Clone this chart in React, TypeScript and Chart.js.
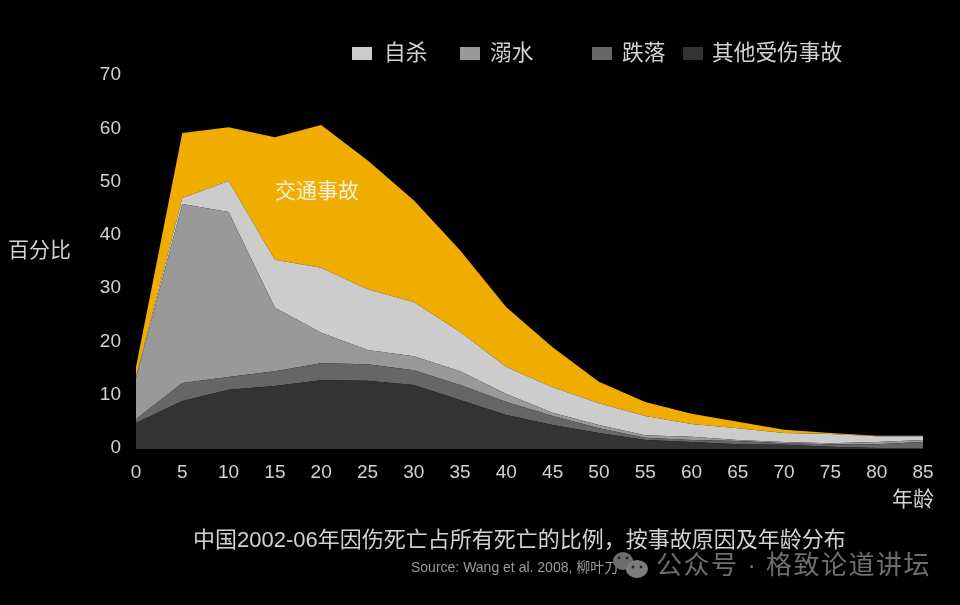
import React, { useEffect, useRef } from "react";
import { Chart, registerables } from "chart.js";

Chart.register(...registerables);

const ages = ["0","5","10","15","20","25","30","35","40","45","50","55","60","65","70","75","80","85"];
const otherInjury = [4.9,9.0,11.1,11.8,12.9,12.8,12.0,9.2,6.4,4.5,3.0,1.7,1.3,0.9,0.8,0.4,0.2,0.2];
const falls = [0.7,3.4,2.4,2.8,3.2,3.1,2.8,2.8,2.4,1.7,0.9,0.4,0.4,0.6,0.3,0.5,0.7,1.1];
const drowning = [7.7,33.6,31.0,11.9,5.7,2.7,2.6,2.6,1.5,0.6,0.6,0.5,0.6,0.2,0.2,0.2,0.4,0.4];
const suicide = [0.2,1.1,5.8,9.0,12.2,11.4,10.2,7.4,5.1,4.8,4.1,3.6,2.4,2.2,1.7,1.7,1.1,0.7];
const traffic = [1.9,12.2,10.1,23.0,26.8,24.2,19.1,15.3,11.2,7.5,4.0,2.6,1.9,1.2,0.6,0.2,0.1,0.1];

const seriesNames = ["其他受伤事故", "跌落", "溺水", "自杀", "交通事故"];
const seriesColors = ["#333333", "#666666", "#999999", "#cccccc", "#f0ad00"];
const legendOrder = [3, 2, 1, 0];
const legendSwatchX = [352, 460, 592, 683];
const legendTextX = [384, 490, 622, 712];

const yAxisName = "百分比";
const xAxisName = "年龄";
const titleText = "中国2002-06年因伤死亡占所有死亡的比例，按事故原因及年龄分布";
const sourceText = "Source: Wang et al. 2008, 柳叶刀";
const watermarkText = "公众号 · 格致论道讲坛";

const CJK = '"Liberation Sans", "Noto Sans CJK SC", sans-serif';
const TEXT = "#d2d2d2";

const overlay = {
  id: "overlay",
  afterDraw(chart: any) {
    const c = chart.ctx;
    c.save();
    c.textBaseline = "middle";
    c.textAlign = "left";
    c.font = `21.7px ${CJK}`;
    legendOrder.forEach((s, i) => {
      c.fillStyle = seriesColors[s];
      c.fillRect(legendSwatchX[i], 47, 20, 13);
      c.fillStyle = TEXT;
      c.fillText(seriesNames[s], legendTextX[i], 54);
    });
    c.fillStyle = TEXT;
    c.font = `21px ${CJK}`;
    c.fillText(yAxisName, 8, 251);
    c.fillText(xAxisName, 892, 500);
    c.fillStyle = "#f6f0df";
    c.fillText(seriesNames[4], 275, 192);
    c.fillStyle = TEXT;
    c.font = `22px ${CJK}`;
    c.fillText(titleText, 193, 541);
    c.fillStyle = "#9a9a9a";
    c.font = `14px ${CJK}`;
    c.fillText(sourceText, 411, 568);

    // watermark
    c.fillStyle = "#6e6e6e";
    c.beginPath();
    c.ellipse(623, 561, 10, 9, 0, 0, Math.PI * 2);
    c.fill();
    c.fillStyle = "#7d7d7d";
    c.beginPath();
    c.ellipse(637, 569, 11, 9, 0, 0, Math.PI * 2);
    c.fill();
    c.fillStyle = "#222222";
    [[619, 558], [627, 558], [633, 567], [641, 567]].forEach(([x, y]) => {
      c.beginPath();
      c.arc(x, y, 1.4, 0, Math.PI * 2);
      c.fill();
    });
    c.fillStyle = "#6e6e6e";
    c.font = `26px ${CJK}`;
    (c as any).letterSpacing = "1.5px";
    c.fillText(watermarkText, 656, 567);
    c.restore();
  },
};

export default function App() {
  const ref = useRef<HTMLCanvasElement>(null);
  useEffect(() => {
    document.body.style.margin = "0";
    document.body.style.background = "#000";
    const values = [otherInjury, falls, drowning, suicide, traffic];
    const chart = new Chart(ref.current!, {
      type: "line",
      data: {
        labels: ages,
        datasets: values.map((data, i) => ({
          label: seriesNames[i],
          data,
          backgroundColor: seriesColors[i],
          borderColor: seriesColors[i],
          borderWidth: 0,
          pointRadius: 0,
          tension: 0,
          fill: i === 0 ? "origin" : "-1",
        })),
      },
      options: {
        responsive: false,
        animation: false,
        layout: { padding: { top: 76, right: 37, bottom: 0, left: 0 } },
        plugins: { legend: { display: false }, title: { display: false }, tooltip: { enabled: false } },
        scales: {
          x: {
            type: "category",
            offset: false,
            stacked: true,
            grid: { display: false },
            border: { display: false },
            afterFit: (s: any) => { s.height = 156; },
            ticks: {
              color: TEXT,
              font: { family: CJK, size: 19 },
              padding: 4,
              autoSkip: false,
              maxRotation: 0,
              minRotation: 0,
            },
          },
          y: {
            stacked: true,
            min: 0,
            max: 70,
            grid: { display: false },
            border: { display: false },
            afterFit: (s: any) => { s.width = 136; },
            ticks: {
              stepSize: 10,
              color: TEXT,
              font: { family: CJK, size: 19 },
              padding: 7,
              labelOffset: -1,
            } as any,
          },
        },
      },
      plugins: [overlay],
    } as any);
    return () => chart.destroy();
  }, []);
  return (
    <div style={{ position: "fixed", left: 0, top: 0, width: 960, height: 605, background: "#000" }}>
      <canvas ref={ref} width={960} height={605} style={{ display: "block" }} />
    </div>
  );
}
